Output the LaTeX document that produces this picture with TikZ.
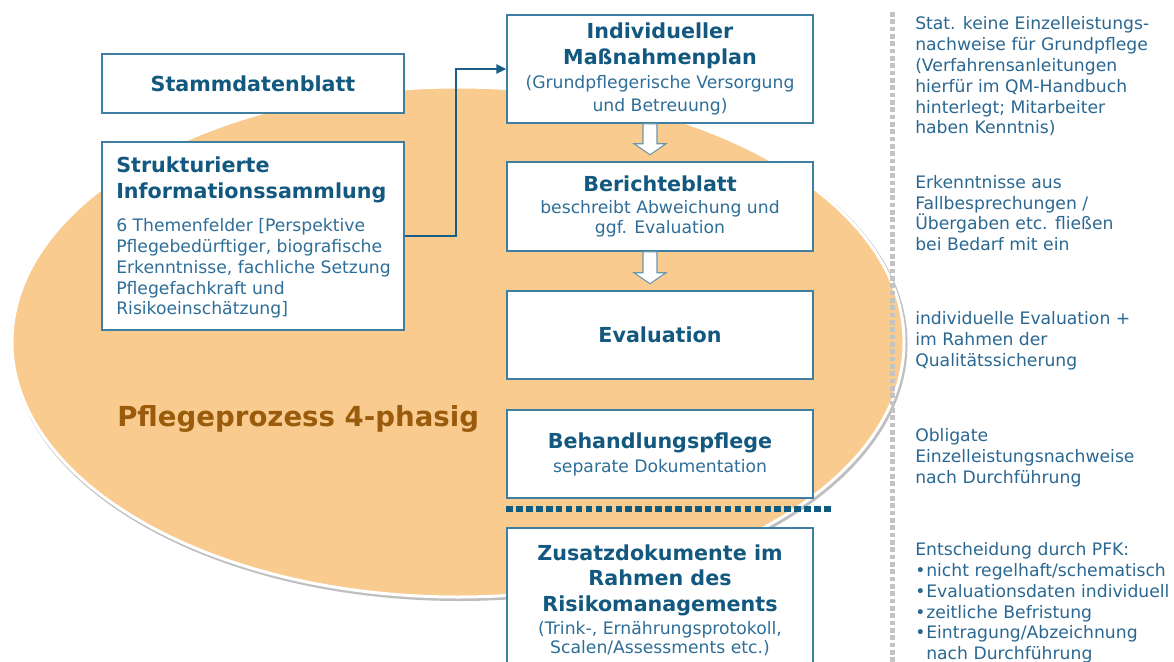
\documentclass[tikz,border=0pt]{standalone}
\usepackage{fontspec}
\setmainfont{DejaVu Sans}
\usetikzlibrary{arrows.meta,calc}
\definecolor{ellfill}{HTML}{F9CB8E}
\definecolor{titleblue}{HTML}{12587F}
\definecolor{bodyblue}{HTML}{2E6E98}
\definecolor{sideblue}{HTML}{2A6892}
\definecolor{boxline}{HTML}{3E7EA0}
\definecolor{connblue}{HTML}{1A5E85}
\definecolor{sepblue}{HTML}{0F5A7E}
\definecolor{dotgray}{HTML}{C3C3C3}
\definecolor{arrline}{HTML}{6A97AE}
\definecolor{brownt}{HTML}{9A5B0C}
\newcommand\boxtitle{\fontsize{15.5}{19.5}\selectfont\bfseries\color{titleblue}}
\newcommand\boxbody{\fontsize{12.9}{15.75}\selectfont}
\newcommand\sidefont{\fontsize{12.9}{15.6}\selectfont}
\begin{document}
\begin{tikzpicture}[x=0.75pt,y=-0.75pt,
  box/.style={draw=boxline, line width=1.1pt, fill=white, inner sep=0pt,
    align=center, font=\boxbody, text=bodyblue},
  sidetext/.style={anchor=west, inner sep=0pt, align=left, font=\sidefont, text=sideblue},
  conn/.style={draw=connblue, line width=1.5pt},
  blockarr/.style={draw=arrline, line width=0.8pt, fill=white, line join=miter}]
\useasboundingbox (0,0) rectangle (1174,661);
\fill[white] (0,0) rectangle (1174,661);
\clip (0,0) rectangle (1174,661);

% ellipse background
\draw[black!25, line width=3pt] (459.5,344) ellipse [x radius=446, y radius=255];
\draw[fill=ellfill, draw=white, line width=2.25pt] (458,342) ellipse [x radius=446, y radius=255];

\node[anchor=west, inner sep=0pt, font=\fontsize{20.7}{24}\selectfont\bfseries, text=brownt] (pp) at (117,419) {Pflegeprozess 4-phasig};

% left boxes
\node[box, minimum width=226.5pt, minimum height=44.25pt] (stamm) at (253,83.5) {{\boxtitle Stammdatenblatt}};
\node[box, minimum width=226.5pt, minimum height=141pt] (struk) at (253,236) {};
\node[anchor=west, inner sep=0pt, align=left, font=\boxbody, text=bodyblue] (struktext) at (116,237.5)
  {{\boxtitle Strukturierte}\\[3.75pt]
   {\boxtitle Informationssammlung}\\[9pt]
   6 Themenfelder [Perspektive\\
   Pflegebedürftiger, biografische\\
   Erkenntnisse, fachliche Setzung\\
   Pflegefachkraft und\\[-0.75pt]
   Risikoeinschätzung]};

% middle column
\node[box, minimum width=229.5pt, minimum height=81pt] (plan) at (660,69)
  {{\boxtitle Individueller}\\[3.75pt]
   {\boxtitle Maßnahmenplan}\\[2.25pt]
   (Grundpflegerische Versorgung\\[1.5pt]
   und Betreuung)};
\node[box, minimum width=229.5pt, minimum height=66.75pt] (bericht) at (660,206.5)
  {{\boxtitle Berichteblatt}\\[0.75pt]
   beschreibt Abweichung und\\[-0.75pt]
   ggf. Evaluation};
\node[box, minimum width=229.5pt, minimum height=66pt] (eval) at (660,335)
  {{\boxtitle Evaluation}};
\node[box, minimum width=229.5pt, minimum height=66pt] (behand) at (660,454)
  {{\boxtitle Behandlungspflege}\\[2.25pt]
   separate Dokumentation};
\node[box, minimum width=229.5pt, minimum height=108pt] (zusatz) at (660,600)
  {{\boxtitle Zusatzdokumente im}\\[3pt]
   {\boxtitle Rahmen des}\\[3.75pt]
   {\boxtitle Risikomanagements}\\[1.5pt]
   (Trink-, Ernährungsprotokoll,\\[-1.5pt]
   Scalen/Assessments etc.)};

% connector
\draw[conn, -{Triangle[length=7.5pt,width=7pt]}] (struk.east) -- ++(51,0) |- (plan.west);

% block arrows
\draw[blockarr, shift={(plan.south)}] (-17,0) -- (-3,0) -- (-3,20) -- (6,20) -- (-10,31) -- (-26,20) -- (-17,20) -- cycle;
\draw[blockarr, shift={(bericht.south)}] (-17,0) -- (-3,0) -- (-3,21) -- (6,21) -- (-10,32) -- (-26,21) -- (-17,21) -- cycle;

% separator
\draw[sepblue, line width=4.5pt, dash pattern=on 4.9pt off 2.55pt] ($(behand.south west)+(0,10)$) -- ++(326,0);

% gray dotted divider
\draw[dotgray, line width=3.75pt, dash pattern=on 3.4pt off 2.1pt] (892,12) -- (892,670);

% right texts
\node[sidetext] (r1) at (915,76.5)
  {Stat. keine Einzelleistungs-\\
   nachweise für Grundpflege\\
   (Verfahrensanleitungen\\
   hierfür im QM-Handbuch\\
   hinterlegt; Mitarbeiter\\
   haben Kenntnis)};
\node[sidetext] (r2) at (915,213)
  {Erkenntnisse aus\\
   Fallbesprechungen /\\
   Übergaben etc. fließen\\
   bei Bedarf mit ein};
\node[sidetext] (r3) at (915,341)
  {individuelle Evaluation +\\
   im Rahmen der\\
   Qualitätssicherung};
\node[sidetext] (r4) at (915,457.5)
  {Obligate\\
   Einzelleistungsnachweise\\
   nach Durchführung};
\node[sidetext] (r5) at (915,603)
  {Entscheidung durch PFK:\\
   \makebox[8.25pt][l]{•}nicht regelhaft/schematisch\\
   \makebox[8.25pt][l]{•}Evaluationsdaten individuell\\
   \makebox[8.25pt][l]{•}zeitliche Befristung\\
   \makebox[8.25pt][l]{•}Eintragung/Abzeichnung\\
   \hspace*{8.25pt}nach Durchführung};
\end{tikzpicture}
\end{document}
